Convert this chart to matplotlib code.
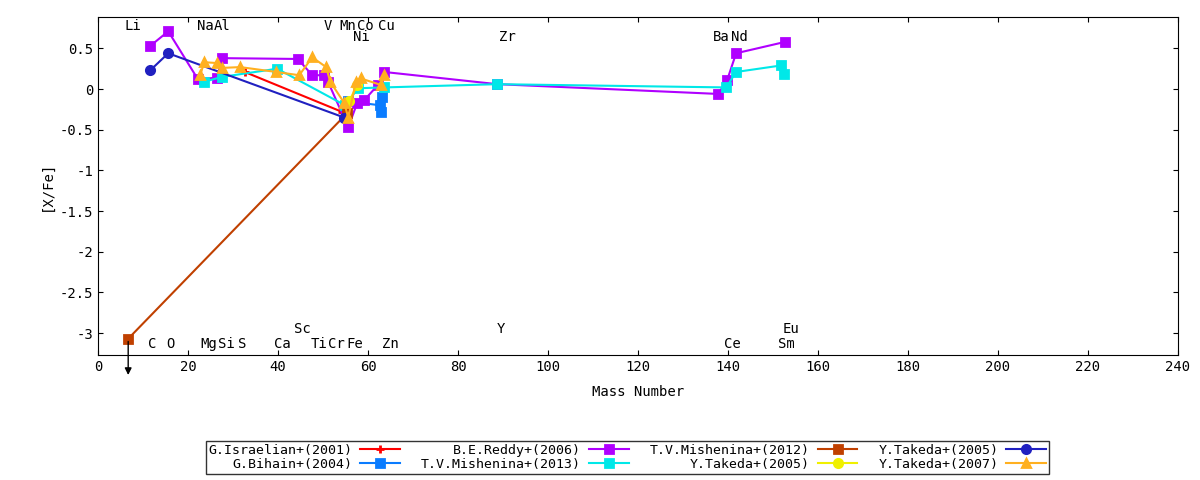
#!/usr/bin/env python3
"""元素組成 [X/Fe] を質量数に対してプロットする (gnuplot 風)。"""

import matplotlib
matplotlib.use('Agg')
import matplotlib.pyplot as plt

FONT = 'DejaVu Sans Mono'

# (label, color, marker, x, y)
SERIES = [
    ('G.Israelian+(2001)', '#ff0000', '+',
     [32.6, 54.2], [0.21, -0.28]),
    ('G.Bihain+(2004)', '#0a7cff', 's',
     [55.6, 62.7, 63.0, 62.9], [-0.15, -0.20, -0.10, -0.28]),
    ('B.E.Reddy+(2006)', '#b000ff', 's',
     [11.6, 15.6, 22.2, 26.4, 27.6, 44.4, 47.6, 50.2, 51.1, 55.6, 57.6, 59.1,
      62.2, 63.6, 88.7, 137.8, 139.8, 141.8, 152.7],
     [0.53, 0.71, 0.12, 0.14, 0.38, 0.37, 0.17, 0.17, 0.09, -0.47, -0.17, -0.14,
      0.05, 0.21, 0.06, -0.06, 0.11, 0.44, 0.58]),
    ('T.V.Mishenina+(2013)', '#00e8e8', 's',
     [23.6, 27.6, 39.8, 54.9, 57.8, 63.6, 88.7, 139.6, 141.8, 151.8, 152.4],
     [0.09, 0.15, 0.25, -0.20, 0.01, 0.02, 0.06, 0.02, 0.21, 0.29, 0.19]),
    ('T.V.Mishenina+(2012)', '#c04000', 's',
     [6.7, 55.3], [-3.07, -0.30]),
    ('Y.Takeda+(2005)', '#f0f000', 'o',
     [55.8, 57.6], [-0.15, 0.05]),
    ('Y.Takeda+(2005)', '#2020c0', 'o',
     [11.6, 15.6, 54.7], [0.23, 0.44, -0.35]),
    ('Y.Takeda+(2007)', '#ffb020', '^',
     [22.7, 23.6, 26.4, 27.6, 31.6, 39.6, 44.7, 47.6, 50.7, 51.6, 54.7, 55.6,
      57.3, 58.4, 62.9, 63.6],
     [0.17, 0.33, 0.32, 0.26, 0.27, 0.21, 0.17, 0.39, 0.27, 0.09, -0.17, -0.35,
      0.09, 0.13, 0.05, 0.17]),
]

# 元素ラベル (x, y, text)
ELEMENTS = [
    (7.8, 0.78, 'Li'), (23.8, 0.78, 'Na'), (27.5, 0.78, 'Al'), (51, 0.78, 'V'),
    (55.5, 0.78, 'Mn'), (59.5, 0.78, 'Co'), (64, 0.78, 'Cu'), (58.5, 0.64, 'Ni'),
    (91, 0.64, 'Zr'), (138.5, 0.64, 'Ba'), (142.5, 0.64, 'Nd'),
    (12, -3.14, 'C'), (16, -3.14, 'O'), (24.5, -3.14, 'Mg'), (28.5, -3.14, 'Si'),
    (32, -3.14, 'S'), (41, -3.14, 'Ca'), (49, -3.14, 'Ti'), (53, -3.14, 'Cr'),
    (57, -3.14, 'Fe'), (65, -3.14, 'Zn'), (141, -3.14, 'Ce'), (153, -3.14, 'Sm'),
    (45.5, -2.95, 'Sc'), (89.5, -2.95, 'Y'), (154, -2.95, 'Eu'),
]


def main():
    fig = plt.figure(figsize=(12, 4.8), dpi=100)
    ax = fig.add_axes([0.0817, 0.2604, 0.9, 0.7042])

    for label, col, mk, x, y in SERIES:
        ax.plot(x, y, color=col, marker=mk, ms=6, lw=1.5, mew=2, label=label)
    # 上限値の矢印
    ax.annotate('', xy=(6.7, -3.55), xytext=(6.7, -3.07),
                arrowprops=dict(arrowstyle='-|>', color='black', lw=1),
                annotation_clip=False)

    for x, y, t in ELEMENTS:
        ax.text(x, y, t, ha='center', va='center', fontsize=10, family=FONT)

    ax.set_xlim(0, 240)
    ax.set_ylim(-3.27, 0.886)
    ax.set_xticks(range(0, 241, 20))
    ax.set_yticks([0.5, 0, -0.5, -1, -1.5, -2, -2.5, -3])
    ax.set_yticklabels(['0.5', '0', '-0.5', '-1', '-1.5', '-2', '-2.5', '-3'])
    ax.tick_params(direction='in', top=True, right=True, labelsize=10)
    for lab in ax.get_xticklabels() + ax.get_yticklabels():
        lab.set_family(FONT)
    ax.set_xlabel('Mass Number', family=FONT, fontsize=10, labelpad=8)
    ax.set_ylabel('[X/Fe]', family=FONT, fontsize=10)

    leg = ax.legend(loc='upper center', bbox_to_anchor=(0.49, -0.235), ncol=4,
                    markerfirst=False, fancybox=False, edgecolor='black',
                    prop=dict(family=FONT, size=9.5), handlelength=3,
                    columnspacing=1.6, borderpad=0.2, labelspacing=0.1,
                    handletextpad=0.6)
    for t in leg.get_texts():
        t.set_ha('right')
    leg.get_frame().set_linewidth(1)

    fig.savefig('out.png')


if __name__ == '__main__':
    main()
